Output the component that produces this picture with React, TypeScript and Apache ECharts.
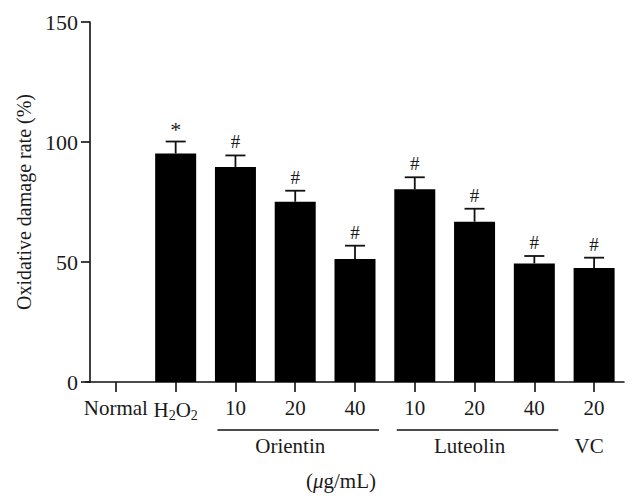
import React, { useEffect, useRef } from "react";
import * as echarts from "echarts";

const categories = ["Normal", "H2O2", "O10", "O20", "O40", "L10", "L20", "L40", "VC20"];
const tickLabels = ["Normal", "{n|H}{s|2}{n|O}{s|2}", "10", "20", "40", "10", "20", "40", "20"];
const values = [0, 95.2, 89.6, 75.1, 51.3, 80.3, 66.8, 49.4, 47.5];
const errors = [0, 5, 4.8, 4.6, 5.5, 5, 5.4, 3.1, 4.3];
const marks = ["", "*", "#", "#", "#", "#", "#", "#", "#"];
const groups = [
  { name: "Orientin", from: 2, to: 4, line: true },
  { name: "Luteolin", from: 5, to: 7, line: true },
  { name: "VC", from: 8, to: 8, line: false },
];
const unitLabel = "({i|μ}g/mL)";
const yTicks = { min: 0, max: 150, interval: 50 };

const FONT = "'Liberation Serif', 'DejaVu Serif', serif";
const TXT = "#1a1a1a";
const FS = 21;

export default function App() {
  const ref = useRef<HTMLDivElement>(null);
  useEffect(() => {
    const chart = echarts.init(ref.current!, null, { renderer: "svg" });
    const option: any = {
      animation: false,
      grid: { left: 86, right: 16, top: 22, bottom: 121, containLabel: false },
      xAxis: {
        type: "category",
        data: categories,
        axisLine: { show: true, lineStyle: { color: "#111", width: 1.6 } },
        axisTick: { show: true, alignWithLabel: true, interval: 0, length: 10, lineStyle: { color: "#111", width: 1.6 } },
        axisLabel: {
          interval: 0,
          margin: 15,
          color: TXT,
          fontFamily: FONT,
          fontSize: FS,
          hideOverlap: false,
          formatter: (_v: string, i: number) => tickLabels[i],
          rich: {
            n: { fontFamily: FONT, fontSize: FS, color: TXT },
            s: { fontFamily: FONT, fontSize: 14, color: TXT, padding: [11, 0, 0, 0] },
          },
        },
        splitLine: { show: false },
      },
      yAxis: {
        type: "value",
        min: yTicks.min,
        max: yTicks.max,
        interval: yTicks.interval,
        offset: -4,
        name: "Oxidative damage rate (%)",
        nameLocation: "middle",
        nameGap: 50,
        nameTextStyle: { fontFamily: FONT, fontSize: 20, color: TXT },
        axisLine: { show: true, lineStyle: { color: "#111", width: 1.6 } },
        axisTick: { show: true, length: 9, lineStyle: { color: "#111", width: 1.6 } },
        axisLabel: { margin: 12, color: TXT, fontFamily: FONT, fontSize: 22 },
        splitLine: { show: false },
      },
      series: [
        {
          type: "bar",
          data: values,
          barWidth: 41,
          itemStyle: { color: "#000" },
          z: 2,
        },
        {
          type: "custom",
          data: values.map((v, i) => [i, v, errors[i]]),
          z: 3,
          renderItem: (params: any, api: any) => {
            const idx = api.value(0);
            const v = api.value(1);
            const e = api.value(2);
            if (!v) return null;
            const base = api.coord([idx, v]);
            const top = api.coord([idx, v + e]);
            const style = { stroke: "#111", lineWidth: 1.8 };
            const mark = marks[idx];
            return {
              type: "group",
              children: [
                { type: "line", shape: { x1: base[0], y1: base[1], x2: top[0], y2: top[1] }, style },
                { type: "line", shape: { x1: top[0] - 10, y1: top[1], x2: top[0] + 10, y2: top[1] }, style },
                {
                  type: "text",
                  x: top[0],
                  y: top[1] - (mark === "*" ? 1 : 4),
                  style: {
                    text: mark,
                    fontFamily: FONT,
                    fontSize: mark === "*" ? 22 : 19,
                    fill: TXT,
                    align: "center",
                    verticalAlign: "bottom",
                  },
                },
              ],
            };
          },
        },
      ],
    };
    chart.setOption(option);

    const px = (i: number) => chart.convertToPixel({ xAxisIndex: 0 }, categories[i]) as number;
    const graphics: any[] = [];
    groups.forEach((g) => {
      const x1 = px(g.from);
      const x2 = px(g.to);
      if (g.line) {
        graphics.push({
          type: "line",
          shape: { x1: x1 - 18, y1: 430, x2: x2 + 24, y2: 430 },
          style: { stroke: "#111", lineWidth: 1.6 },
        });
      }
      graphics.push({
        type: "text",
        x: (x1 + x2) / 2 - 5,
        y: 446,
        style: {
          text: g.name,
          fontFamily: FONT,
          fontSize: FS,
          fill: TXT,
          align: "center",
          verticalAlign: "middle",
        },
      });
    });
    graphics.push({
      type: "text",
      x: px(4) - 14,
      y: 481,
      style: {
        text: unitLabel,
        fontFamily: FONT,
        fontSize: FS,
        fill: TXT,
        align: "center",
        verticalAlign: "middle",
        rich: {
          i: { fontFamily: FONT, fontSize: FS, fontStyle: "italic", fill: TXT },
        },
      },
    });
    chart.setOption({ graphic: graphics });

    return () => chart.dispose();
  }, []);
  return <div ref={ref} style={{ width: 640, height: 503, marginLeft: -8, marginTop: -8 }} />;
}
